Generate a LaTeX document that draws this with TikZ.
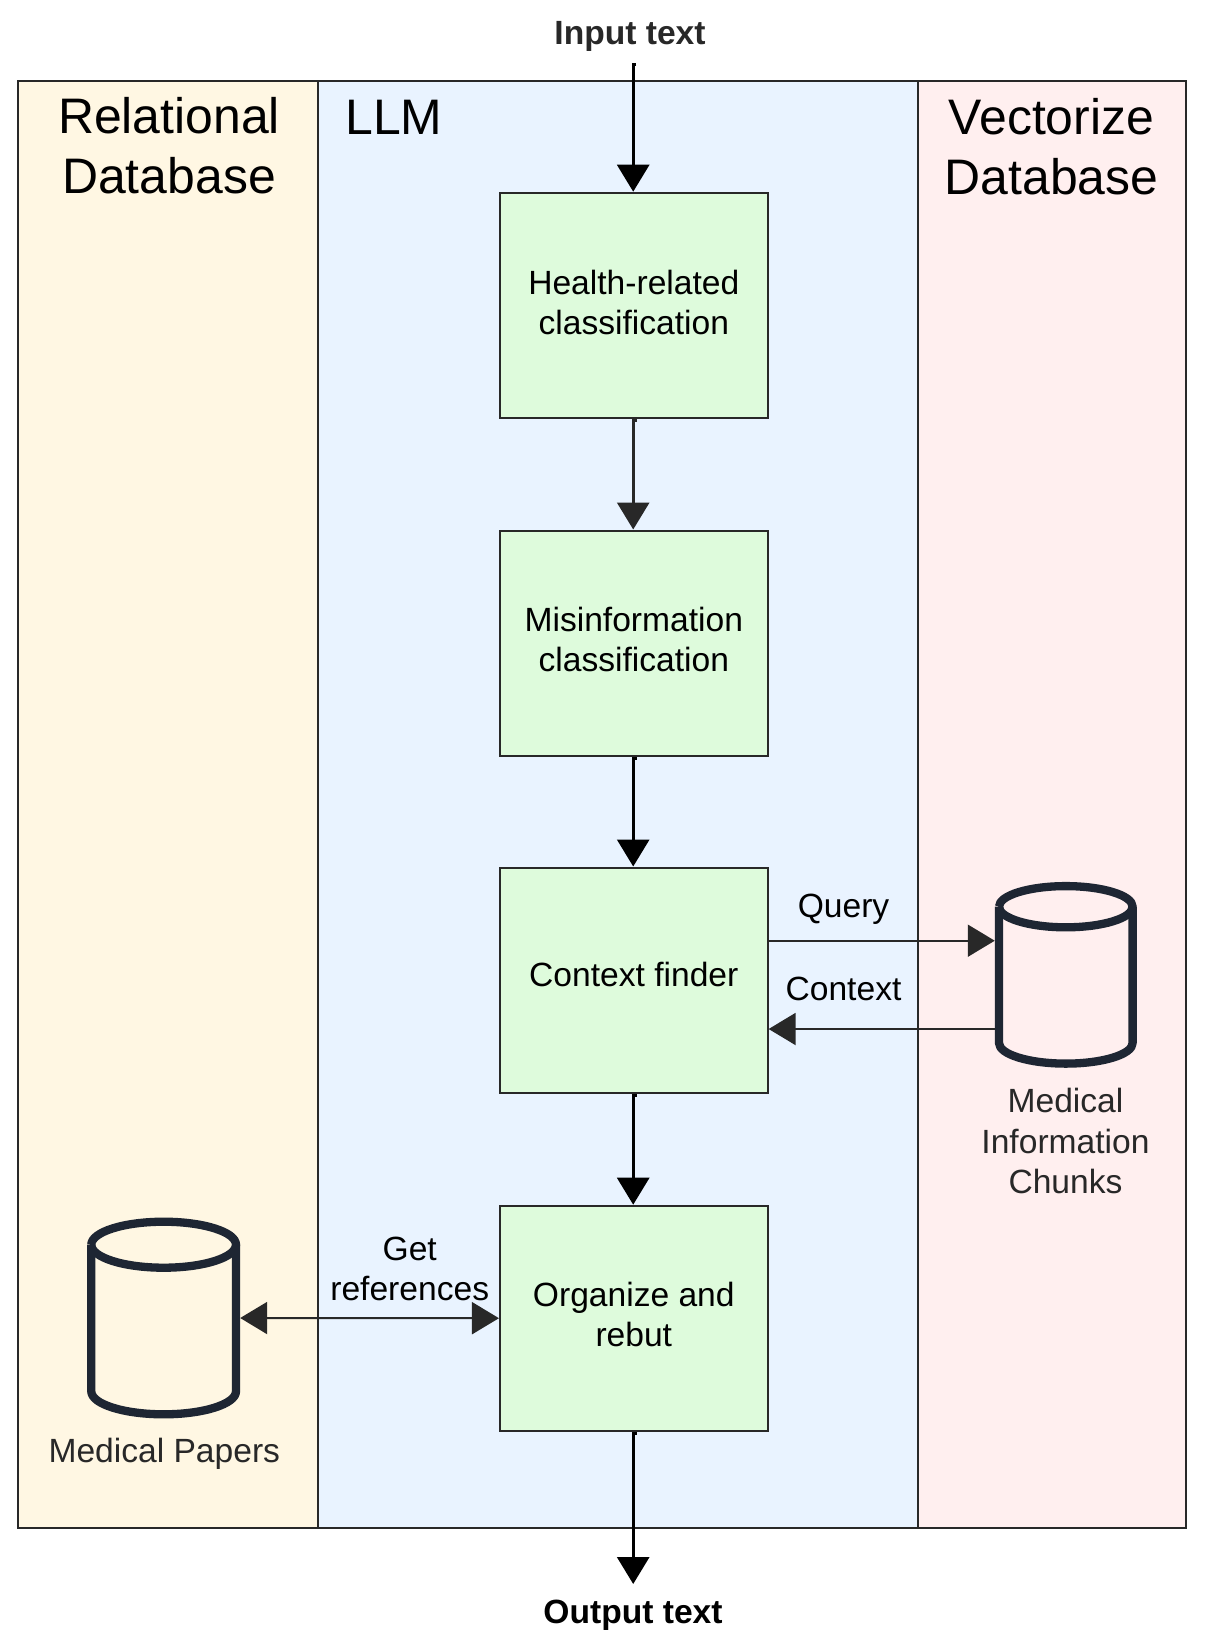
\documentclass[tikz,border=0pt]{standalone}
\usepackage{fontspec}
\setmainfont{Liberation Sans}
\usetikzlibrary{arrows.meta}
\definecolor{ink}{HTML}{282828}
\definecolor{cyl}{HTML}{1E2633}
\definecolor{relfill}{HTML}{FFF7E3}
\definecolor{llmfill}{HTML}{E9F3FF}
\definecolor{vecfill}{HTML}{FFEFEF}
\definecolor{boxfill}{HTML}{DEFBDC}
\newcommand{\tdrop}[1]{\rule[-#1pt]{0pt}{0pt}}
\tikzset{
  lane/.style={draw=ink,line width=2pt},
  stepbox/.style={draw=ink,line width=2pt,fill=boxfill,minimum width=267.7pt,minimum height=225pt,inner sep=0pt,align=center,
    font=\fontsize{33.6}{40.4}\selectfont},
  lbl/.style={inner sep=0pt,align=center,font=\fontsize{33.6}{40.4}\selectfont},
  oneline/.style={lbl,text height=24pt,text depth=7pt},
  title/.style={inner sep=0pt,align=center,font=\fontsize{49.9}{60}\selectfont},
  bigtip/.style={-{Triangle[length=27pt,width=32pt]}},
  heavy/.style={bigtip,line width=3pt,draw=black},
  light/.style={bigtip,line width=3pt,draw=ink},
  thin link/.style={line width=2pt,draw=ink},
  cylinder line/.style={draw=cyl,line width=8.3pt,line join=round},
  dbanchor/.style={inner sep=0pt,minimum width=152.7pt,minimum height=200.6pt},
}
\begin{document}
\begin{tikzpicture}[x=1pt,y=-1pt]
\useasboundingbox (0,0) rectangle (1210,1648);
% lanes
\path[fill=relfill] (18,81) rectangle (318,1527.7);
\path[fill=llmfill] (318,81) rectangle (918,1527.7);
\path[fill=vecfill] (918,81) rectangle (1186,1527.7);
\draw[lane] (18,81) rectangle (1186,1527.7);
\draw[lane] (318,81) -- (318,1527.7);
\draw[lane] (918,81) -- (918,1527.7);
% titles
\node[title] (trel) at (169,146) {Relational\\Database};
\node[title,text height=36pt,text depth=1pt] (tllm) at (394,117) {LLM};
\node[title] (tvec) at (1051.5,147) {Vectorize\\Database};
% steps
\node[stepbox] (h1) at (633.8,305.2) {Health-related\\classification\tdrop{6.3}};
\node[stepbox] (m2) at (633.8,643) {Misinformation\\classification\tdrop{7}};
\node[stepbox] (cf) at (633.8,980) {Context finder\tdrop{11.5}};
\node[stepbox] (or) at (633.8,1318.2) {Organize and\\rebut\tdrop{7.5}};
% cylinders
\node[dbanchor,minimum width=141.7pt,minimum height=186pt] (dbv) at (1065.8,975) {};
\draw[cylinder line] (999,906.7) arc[start angle=180,end angle=-180,x radius=66.8,y radius=20.6];
\draw[cylinder line] (999,906.7) -- (999,1043) arc[start angle=180,end angle=0,x radius=66.8,y radius=20.6] -- (1132.6,906.7);
\node[dbanchor] (dbp) at (163.65,1318) {};
\draw[cylinder line] (91.3,1244.7) arc[start angle=180,end angle=-180,x radius=72.35,y radius=23];
\draw[cylinder line] (91.3,1244.7) -- (91.3,1391.3) arc[start angle=180,end angle=0,x radius=72.35,y radius=23] -- (236,1244.7);
% labels
\node[oneline,font=\fontsize{33.6}{40.4}\selectfont\bfseries,text=ink] (input) at (630,36.2) {Input text};
\node[oneline,font=\fontsize{33.6}{40.4}\selectfont\bfseries] (output) at (633,1615.2) {Output text};
\node[oneline] (q) at (843.5,909.2) {Query};
\node[oneline] (c) at (843.5,992) {Context};
\node[lbl,text=ink] (mi) at (1065.5,1141.3) {Medical\\Information\\Chunks};
\node[oneline,text=ink] (mp) at (164.3,1453.5) {Medical Papers};
\node[lbl] (gr) at (409.7,1269) {Get\\references};
% connectors
\coordinate (cin) at (636,64.5);
\coordinate (cout) at (633.2,1584);
\coordinate (qy) at (0,940.7);
\coordinate (cy) at (0,1029);
\coordinate (ax) at (633.2,0);
\draw[heavy] (cin) -| (ax |- h1.north);
\draw[light] ([xshift=3pt,yshift=-2pt]h1.south) -| (ax |- m2.north);
\draw[heavy] ([xshift=3pt,yshift=-2pt]m2.south) -| (ax |- cf.north);
\draw[heavy] ([xshift=3pt,yshift=-2pt]cf.south) -| (ax |- or.north);
\draw[heavy] ([xshift=3pt,yshift=-2pt]or.south) -| (cout);
\draw[thin link,bigtip] (cf.east |- qy) -- (dbv.west |- qy);
\draw[thin link,bigtip] (dbv.west |- cy) -- (cf.east |- cy);
\draw[thin link,{Triangle[length=27pt,width=32pt]}-{Triangle[length=27pt,width=32pt]}] (dbp.east) -- (or.west);
\end{tikzpicture}
\end{document}
